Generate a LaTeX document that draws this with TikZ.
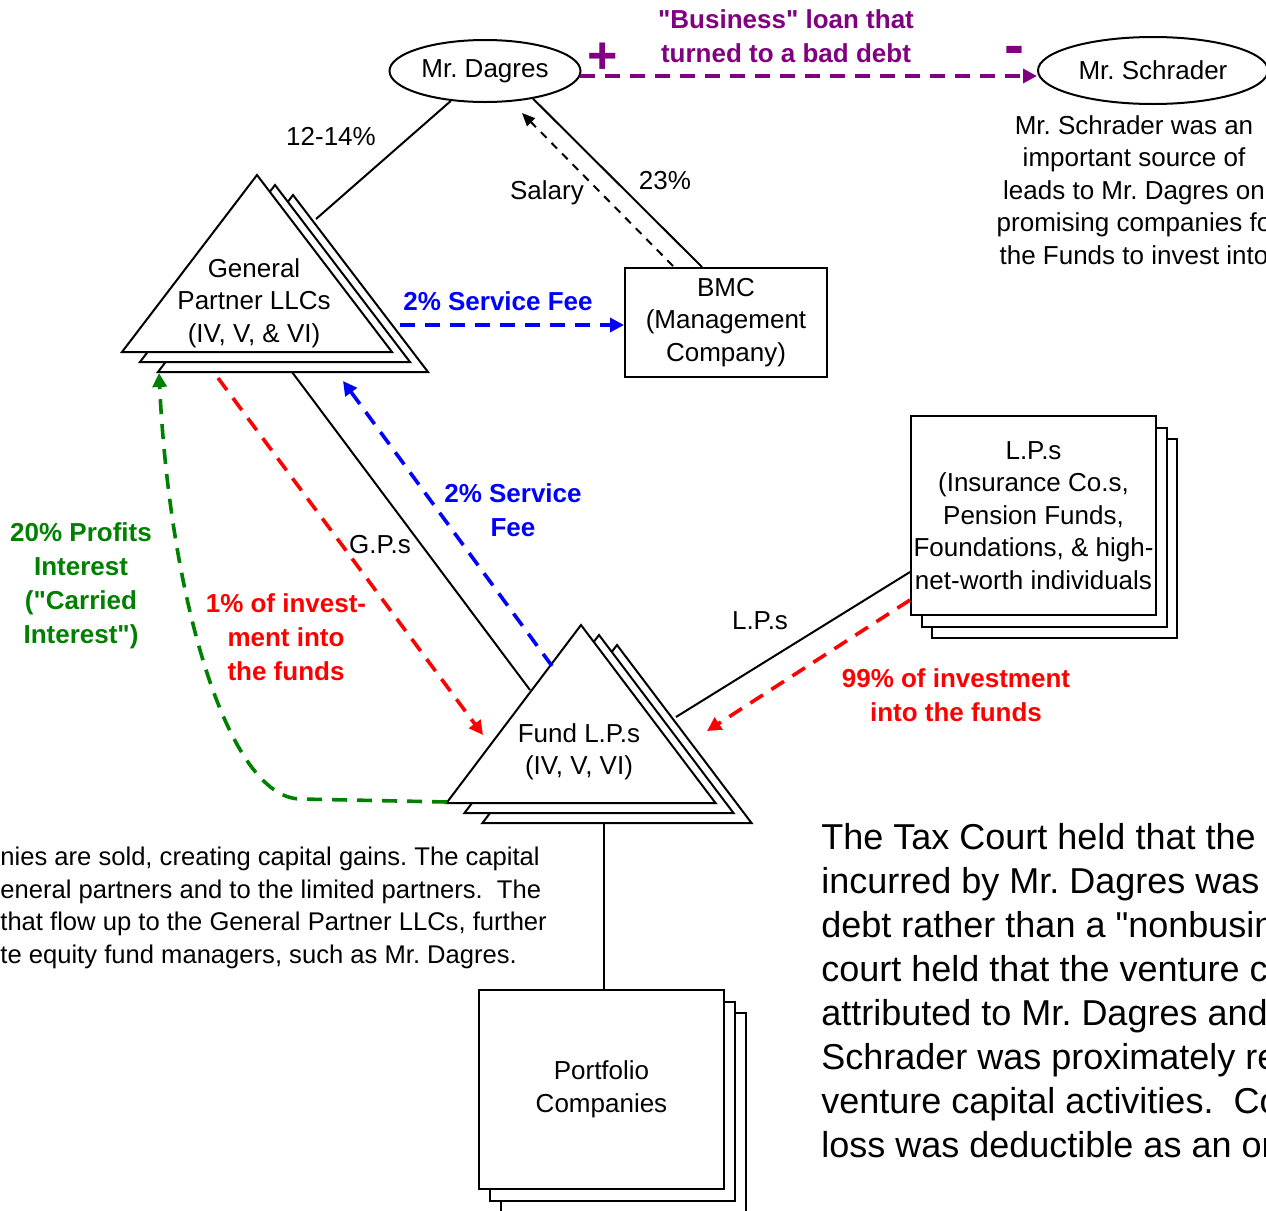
\documentclass[tikz,border=0pt]{standalone}
\usepackage{fontspec}
\setmainfont{Liberation Sans}
\usetikzlibrary{arrows.meta,positioning,calc,shapes.geometric}
\frenchspacing

\definecolor{loanpurple}{RGB}{128,0,128}
\definecolor{feeblue}{RGB}{0,0,255}
\definecolor{investred}{RGB}{255,0,0}
\definecolor{carrygreen}{RGB}{0,128,0}

\newcommand{\basefont}{\fontsize{13}{16.25}\selectfont}
\newcommand{\boldfont}{\fontsize{13}{17}\selectfont\bfseries}
\newcommand{\q}{\textquotedbl}

% stack of three triangles: apex x, apex y, half base, height
\newcommand{\tristack}[4]{%
  \foreach \k in {2,1,0}{
    \filldraw[fill=white, draw=black, line width=1pt]
      (#1+18*\k, #2+10*\k) -- ++(#3, #4) -- ++(-2*#3, 0) -- cycle;
  }%
}

\begin{document}
\begin{tikzpicture}[x=0.5pt, y=-0.5pt, font=\basefont, >={Triangle[length=7pt,width=7pt]}]
\tikzset{
person/.style   = {draw, shape=ellipse, line width=1pt, fill=white, inner sep=0pt},
block/.style    = {draw, shape=rectangle, line width=1pt, fill=white, inner sep=0pt, align=center},
stackbox/.style = {block, minimum width=122.5pt, minimum height=99.5pt},
lbl/.style      = {inner sep=0pt, align=center},
boldlbl/.style  = {lbl, font=\boldfont},
link/.style     = {line width=1pt},
flow/.style     = {line width=1.8pt, dash pattern=on 7.5pt off 5pt},
}
\useasboundingbox (0,0) rectangle (1266,1211);
\clip (0,0) rectangle (1266,1211);

    % People
    \node [person, minimum width=95.5pt, minimum height=31pt]   (dagres)   at (485,71)     {Mr. Dagres};
    \node [person, minimum width=115pt, minimum height=33.5pt]  (schrader) at (1153,70.5)  {Mr. Schrader};
    \node [lbl] (schrader_note) at (1134,190) {Mr. Schrader was an\\important source of\\leads to Mr. Dagres on\\promising companies fo\\the Funds to invest into};

    % Partnerships
    \tristack{257}{175}{135}{177}
    \node [lbl] (gp) at (254,303) {General\\Partner LLCs\\(IV, V, \& VI)};
    \tristack{581}{625}{134.5}{178}
    \node [lbl] (fund) at (579,752) {Fund L.P.s\\(IV, V, VI)};

    \node [block, minimum width=101pt, minimum height=54.5pt] (bmc) at (726,322.5) {BMC\\(Management\\Company)};

    \foreach \k in {2,1}
        \node [stackbox] at (1033.5+10.5*\k, 515.5+11.5*\k) {};
    \node [stackbox] (lps) at (1033.5,515.5) {L.P.s\\(Insurance Co.s,\\Pension Funds,\\Foundations, \& high-\\net-worth individuals};

    \foreach \k in {2,1}
        \node [stackbox] at (601.5+11*\k, 1089.5+11.5*\k) {};
    \node [stackbox] (portfolio) at (601.5,1089.5) {Portfolio\\Companies};

    % Connector ends on the triangles
    \coordinate (gp_top)      at (316,219);
    \coordinate (gp_fee)      at (400,325);
    \coordinate (gp_base)     at (292,372);
    \coordinate (gp_red)      at (218,378);
    \coordinate (gp_blue)     at (343,381);
    \coordinate (gp_green)    at (159,373);
    \coordinate (fund_gp)     at (530,690);
    \coordinate (fund_blue)   at (552,666);
    \coordinate (fund_red)    at (483,735);
    \coordinate (fund_lp)     at (676,717);
    \coordinate (fund_lpred)  at (707,731);
    \coordinate (fund_corner) at (447,802);
    \coordinate (fund_bottom) at (604,822);
    \coordinate (bmc_salary)  at (673,266);
    \coordinate (dagres_salary) at (522,113);

    % Ownership edges
    \draw [link] (dagres) -- (gp_top);
    \draw [link] (dagres.-30) -- (bmc.north -| 702,0);
    \draw [link] (gp_base) -- (fund_gp);
    \draw [link] (lps.west |- 0,572) -- (fund_lp);
    \draw [link] (fund_bottom) -- (portfolio.north -| fund_bottom);

    \node [lbl] (pct_gp)  at (331,136) {12-14\%};
    \node [lbl] (pct_bmc) at (665,181) {23\%};
    \node [lbl] (gps)     at (380,545) {G.P.s};
    \node [lbl] (lps_lbl) at (760,621) {L.P.s};

    % Money flows
    \draw [->, line width=1pt, dash pattern=on 4pt off 3.5pt, >={Triangle[length=6.5pt,width=5.5pt]}]
        (bmc_salary) -- (dagres_salary);
    \node [lbl] (salary) at (547,193) {Salary};

    \draw [->, flow, feeblue] (gp_fee) -- (gp_fee -| bmc.west);
    \node [boldlbl, feeblue] (fee_bmc) at (498,301) {2\% Service Fee};

    \draw [->, flow, feeblue] (fund_blue) -- (gp_blue);
    \node [boldlbl, feeblue] (fee_gp) at (513,510) {2\% Service\\Fee};

    \draw [->, flow, investred] (gp_red) -- (fund_red);
    \node [boldlbl, investred] (invest_gp) at (286,637) {1\% of invest-\\ment into\\the funds};

    \draw [->, flow, investred] (lps.west |- 0,600) -- (fund_lpred);
    \node [boldlbl, investred] (invest_lp) at (956,695) {99\% of investment\\into the funds};

    \draw [->, flow, carrygreen] (fund_corner) -- (300,799)
        .. controls (228,797) and (170,600) .. (gp_green);
    \node [boldlbl, carrygreen] (carry) at (81,586) {20\% Profits\\Interest\\(\q Carried\\Interest\q)};

    % Loan
    \draw [->, flow, loanpurple] (dagres.-3) -- (schrader.west |- dagres.-3);
    \node [boldlbl, loanpurple] (loan) at (786,36) {\q Business\q{} loan that\\turned to a bad debt};
    \node [lbl, loanpurple, font=\fontsize{26}{26}\selectfont\bfseries] (plus) at (603,58) {+};
    \node [lbl, loanpurple, font=\fontsize{30}{30}\selectfont\bfseries] (minus) at (1014,56) {-};

    % Notes
    \node [lbl, align=left, anchor=north west, font=\fontsize{12.8}{16.25}\selectfont] (gains_note) at (0,847)
        {nies are sold, creating capital gains. The capital\\eneral partners and to the limited partners.\ \ The\\that flow up to the General Partner LLCs, further\\te equity fund managers, such as Mr. Dagres.};
    \node [lbl, align=left, anchor=north west, font=\fontsize{18}{22}\selectfont] (court_note) at (821,823)
        {The Tax Court held that the\\incurred by Mr. Dagres was\\debt rather than a \q nonbusin\\court held that the venture c\\attributed to Mr. Dagres and\\Schrader was proximately re\\venture capital activities.\ \ Co\\loss was deductible as an or};

\end{tikzpicture}
\end{document}
